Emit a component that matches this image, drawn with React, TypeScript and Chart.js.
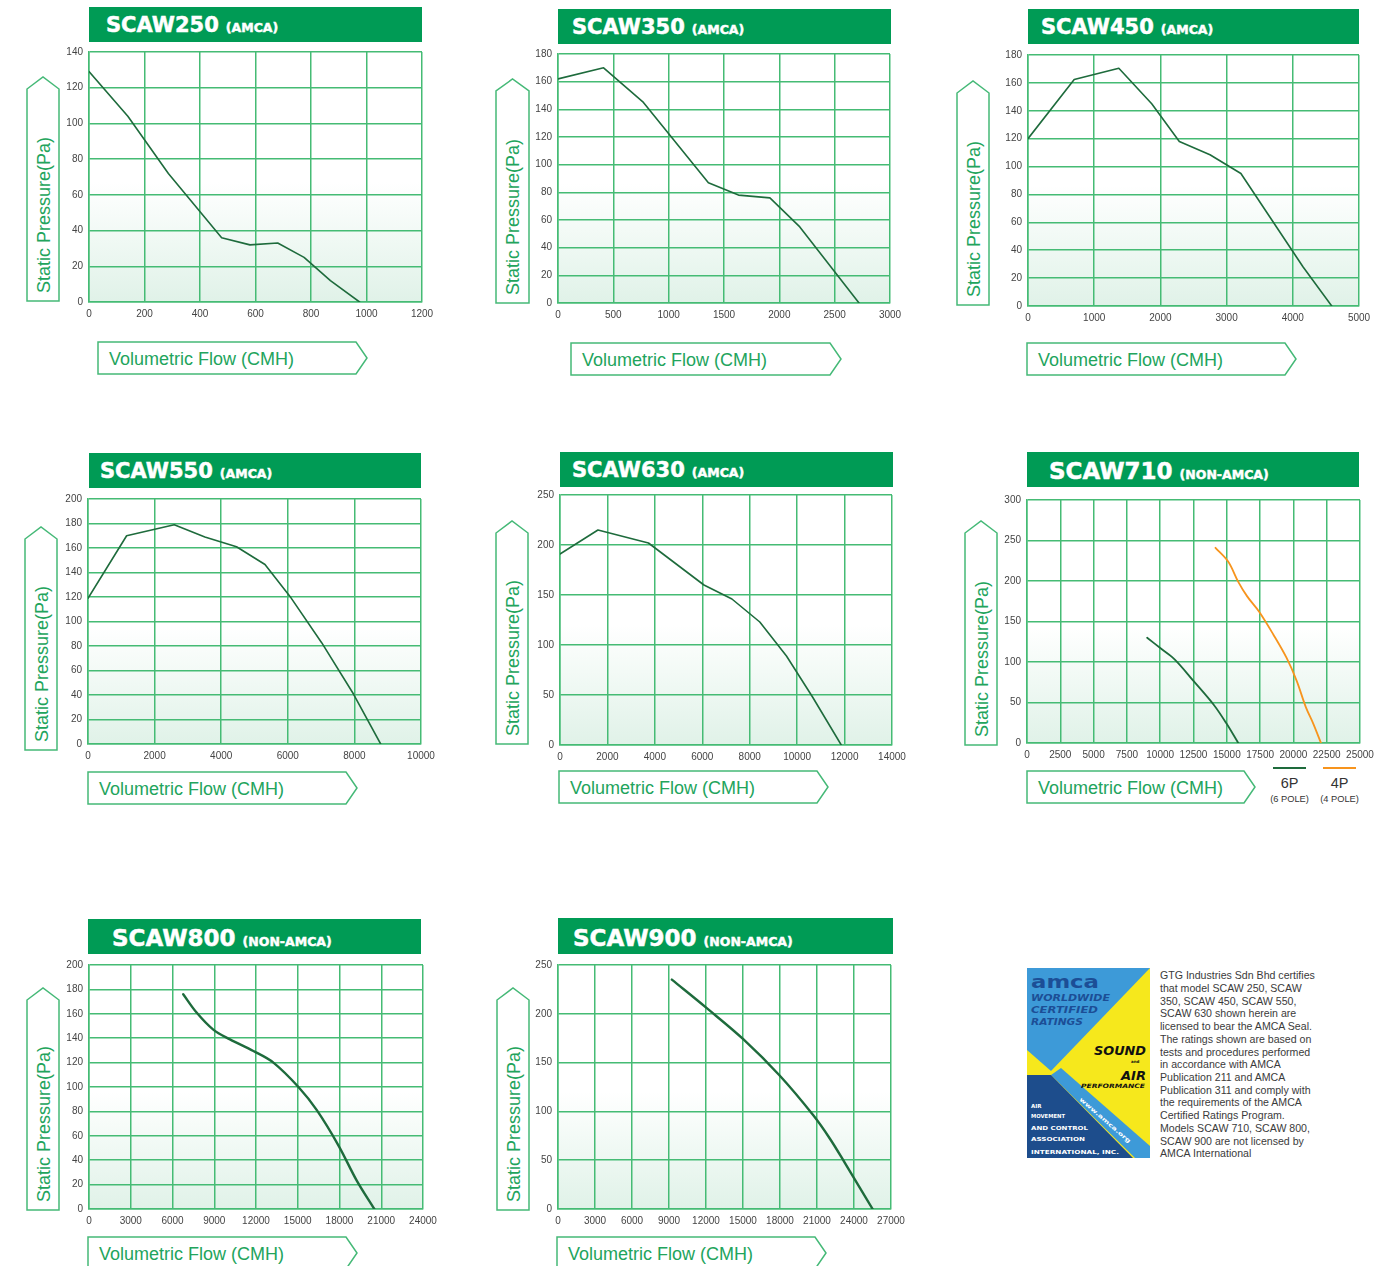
import React, { useEffect, useRef } from "react";
import { Chart, registerables } from "chart.js";

Chart.register(...registerables);
Chart.defaults.font.family = "'Liberation Sans', Arial, sans-serif";

// ---------------- DATA ----------------
const scaw250Flow = [0, 140, 286, 478, 580, 680, 775, 870, 975];
const scaw250Pressure = [129, 104, 72, 36, 32, 33, 25, 12, 0];
const scaw250XTicks = [0, 200, 400, 600, 800, 1000, 1200];
const scaw250YTicks = [0, 20, 40, 60, 80, 100, 120, 140];

const scaw350Flow = [0, 412, 772, 1359, 1631, 1915, 2185, 2720];
const scaw350Pressure = [162, 170, 145, 87, 78, 76, 55, 0];
const scaw350XTicks = [0, 500, 1000, 1500, 2000, 2500, 3000];
const scaw350YTicks = [0, 20, 40, 60, 80, 100, 120, 140, 160, 180];

const scaw450Flow = [0, 698, 1372, 1869, 2286, 2749, 3216, 4156, 4588];
const scaw450Pressure = [120, 162.5, 170.5, 145, 118, 108.5, 95, 28, 0];
const scaw450XTicks = [0, 1000, 2000, 3000, 4000, 5000];
const scaw450YTicks = [0, 20, 40, 60, 80, 100, 120, 140, 160, 180];

const scaw550Flow = [0, 1160, 2590, 3510, 4460, 5315, 6066, 7017, 7968, 8789];
const scaw550Pressure = [119, 170, 179, 169, 161, 146.5, 120.5, 82.7, 41, 0];
const scaw550XTicks = [0, 2000, 4000, 6000, 8000, 10000];
const scaw550YTicks = [0, 20, 40, 60, 80, 100, 120, 140, 160, 180, 200];

const scaw630Flow = [0, 1600, 3730, 6070, 7250, 8425, 9550, 10650, 11860];
const scaw630Pressure = [191, 215, 202, 160, 146, 123, 89, 48, 0];
const scaw630XTicks = [0, 2000, 4000, 6000, 8000, 10000, 12000, 14000];
const scaw630YTicks = [0, 50, 100, 150, 200, 250];

const scaw710Flow6P = [9020, 10100, 11100, 12480, 14030, 14980, 15860];
const scaw710Pressure6P = [130, 116, 103, 77, 47, 24, 0];
const scaw710Flow4P = [14150, 15100, 15860, 16530, 17430, 18490, 19490, 20240, 20940, 21490, 22070];
const scaw710Pressure4P = [241, 224, 199, 181, 162, 134, 105, 77, 44, 24, 0];
const scaw710XTicks = [0, 2500, 5000, 7500, 10000, 12500, 15000, 17500, 20000, 22500, 25000];
const scaw710YTicks = [0, 50, 100, 150, 200, 250, 300];

const scaw800Flow = [6770, 7730, 8930, 10130, 11810, 13250, 15050, 16370, 17930, 19250, 20500];
const scaw800Pressure = [176, 161, 147, 139, 129.5, 120, 100, 81, 52, 23, 0];
const scaw800XTicks = [0, 3000, 6000, 9000, 12000, 15000, 18000, 21000, 24000];
const scaw800YTicks = [0, 20, 40, 60, 80, 100, 120, 140, 160, 180, 200];

const scaw900Flow = [9230, 12040, 15020, 17990, 20700, 22050, 23270, 25510];
const scaw900Pressure = [235, 206, 174, 136.5, 96, 72, 47, 0];
const scaw900XTicks = [0, 3000, 6000, 9000, 12000, 15000, 18000, 21000, 24000, 27000];
const scaw900YTicks = [0, 50, 100, 150, 200, 250];

const certText = [
  "GTG Industries Sdn Bhd certifies",
  "that model SCAW 250, SCAW",
  "350, SCAW 450, SCAW 550,",
  "SCAW 630 shown herein are",
  "licensed to bear the AMCA Seal.",
  "The ratings shown are based on",
  "tests and procedures performed",
  "in accordance with AMCA",
  "Publication 211 and AMCA",
  "Publication 311 and comply with",
  "the requirements of the AMCA",
  "Certified Ratings Program.",
  "Models SCAW 710, SCAW 800,",
  "SCAW 900 are not licensed by",
  "AMCA International",
];

// ---------------- STYLE ----------------
const BANNER = "#009b55";
const GRID = "#45bb74";
const BOX = "#45b977";
const LABEL = "#22a45c";
const CURVE = "#1e6b3c";
const ORANGE = "#f7941d";
const SANS = "'Liberation Sans', Arial, sans-serif";

const PAD_L = 45;
const PAD_T = 10;
const PAD_R = 24;
const PAD_B = 26;

const bgPlugin = {
  id: "plotBg",
  beforeDraw(chart: any) {
    const { ctx, chartArea } = chart;
    if (!chartArea) return;
    const { left, top, right, bottom } = chartArea;
    const g = ctx.createLinearGradient(0, top, 0, bottom);
    g.addColorStop(0, "#ffffff");
    g.addColorStop(0.52, "#ffffff");
    g.addColorStop(1, "#e0f2e8");
    ctx.save();
    ctx.fillStyle = g;
    ctx.fillRect(left, top, right - left, bottom - top);
    ctx.restore();
  },
};

type Series = { flow: number[]; pressure: number[]; color: string };

function PerfChart(props: {
  rect: { l: number; t: number; w: number; h: number };
  xTicks: number[];
  yTicks: number[];
  series: Series[];
  smooth: boolean;
  lineWidth: number;
}) {
  const ref = useRef<HTMLCanvasElement>(null);
  const { rect, xTicks, yTicks, series, smooth, lineWidth } = props;
  useEffect(() => {
    const chart = new Chart(ref.current as HTMLCanvasElement, {
      type: "line",
      data: {
        datasets: series.map((s) => ({
          data: s.flow.map((x, i) => ({ x, y: s.pressure[i] })),
          borderColor: s.color,
          borderWidth: lineWidth,
          pointRadius: 0,
          fill: false,
          tension: smooth ? 0.35 : 0,
          borderCapStyle: "round",
          borderJoinStyle: "round",
        })),
      } as any,
      options: {
        animation: false,
        responsive: true,
        maintainAspectRatio: false,
        layout: { padding: { left: 0, top: PAD_T, right: PAD_R, bottom: 0 } },
        plugins: {
          legend: { display: false },
          tooltip: { enabled: false },
          title: { display: false },
        },
        scales: {
          x: {
            type: "linear",
            min: xTicks[0],
            max: xTicks[xTicks.length - 1],
            afterBuildTicks: (s: any) => {
              s.ticks = xTicks.map((v) => ({ value: v }));
            },
            afterFit: (s: any) => {
              s.height = PAD_B;
            },
            ticks: {
              autoSkip: false,
              maxRotation: 0,
              minRotation: 0,
              padding: 6,
              color: "#444",
              font: { size: 10 },
              callback: (v: any) => String(v),
            },
            grid: { color: GRID, lineWidth: 1.5, drawTicks: false },
            border: { display: true, color: GRID, width: 1.5 },
          },
          y: {
            type: "linear",
            min: yTicks[0],
            max: yTicks[yTicks.length - 1],
            afterBuildTicks: (s: any) => {
              s.ticks = yTicks.map((v) => ({ value: v }));
            },
            afterFit: (s: any) => {
              s.width = PAD_L;
            },
            ticks: {
              autoSkip: false,
              padding: 6,
              color: "#444",
              font: { size: 10 },
              callback: (v: any) => String(v),
            },
            grid: { color: GRID, lineWidth: 1.5, drawTicks: false },
            border: { display: true, color: GRID, width: 1.5 },
          },
        },
      } as any,
      plugins: [bgPlugin],
    });
    return () => chart.destroy();
  }, []);
  return (
    <div
      style={{
        position: "absolute",
        left: rect.l - PAD_L,
        top: rect.t - PAD_T,
        width: rect.w + PAD_L + PAD_R,
        height: rect.h + PAD_T + PAD_B,
      }}
    >
      <canvas ref={ref} />
    </div>
  );
}

function Banner(p: { x: number; y: number; w: number; h: number; tx: number; by: number; name: string; tag: string; size: number }) {
  return (
    <g>
      <rect x={p.x} y={p.y} width={p.w} height={p.h} fill={BANNER} />
      <text
        x={p.tx}
        y={p.by}
        fill="#ffffff"
        stroke="#ffffff"
        strokeWidth={0.5}
        fontFamily="'DejaVu Sans', sans-serif"
        fontWeight="bold"
      >
        <tspan fontSize={p.size}>{p.name}</tspan>
        <tspan fontSize={12.5} dx={7}>{p.tag}</tspan>
      </text>
    </g>
  );
}

function YBox(p: { x: number; apex: number; bottom: number; w: number }) {
  const s = 12;
  const pts = `${p.x},${p.bottom} ${p.x},${p.apex + s} ${p.x + p.w / 2},${p.apex} ${p.x + p.w},${p.apex + s} ${p.x + p.w},${p.bottom}`;
  return (
    <g>
      <polygon points={pts} fill="#ffffff" stroke={BOX} strokeWidth={1.5} />
      <text
        transform={`translate(${p.x + p.w / 2 + 6.5},${p.bottom - 8}) rotate(-90)`}
        fontSize={18}
        fill={LABEL}
        fontFamily={SANS}
      >
        Static Pressure(Pa)
      </text>
    </g>
  );
}

function XBox(p: { x: number; top: number; tip: number }) {
  const h = 32;
  const pts = `${p.x},${p.top} ${p.tip - 11},${p.top} ${p.tip},${p.top + h / 2} ${p.tip - 11},${p.top + h} ${p.x},${p.top + h}`;
  return (
    <g>
      <polygon points={pts} fill="#ffffff" stroke={BOX} strokeWidth={1.5} />
      <text x={p.x + 11} y={p.top + h / 2 + 6.5} fontSize={18} fill={LABEL} fontFamily={SANS}>
        Volumetric Flow (CMH)
      </text>
    </g>
  );
}

function Logo() {
  const dark = "#1c4e96";
  const bold = { fontFamily: "'DejaVu Sans', sans-serif", fontWeight: "bold" as const };
  return (
    <g transform="translate(1027,968)">
      <rect width={123} height={190} fill="#f6e81c" />
      <polygon points="0,0 123,0 24,103 0,82" fill="#3d9ad8" />
      <polygon points="24,107 34,100 123,178 123,190 108,190" fill="#3d9ad8" />
      <polygon points="0,107 24,107 106,190 0,190" fill="#1d4d8c" />
      <text x={4} y={20} fontSize={17} fill={dark} textLength={68} lengthAdjust="spacingAndGlyphs" {...bold}>amca</text>
      <text x={4} y={33} fontSize={9} fontStyle="italic" fill={dark} textLength={79} lengthAdjust="spacingAndGlyphs" {...bold}>WORLDWIDE</text>
      <text x={4} y={45} fontSize={9} fontStyle="italic" fill={dark} textLength={67} lengthAdjust="spacingAndGlyphs" {...bold}>CERTIFIED</text>
      <text x={4} y={57} fontSize={9} fontStyle="italic" fill={dark} textLength={52} lengthAdjust="spacingAndGlyphs" {...bold}>RATINGS</text>
      <text x={67} y={87} fontSize={12} fontStyle="italic" fill="#111" textLength={52} lengthAdjust="spacingAndGlyphs" {...bold}>SOUND</text>
      <text x={104} y={95} fontSize={4} fill="#111" {...bold}>and</text>
      <text x={94} y={112} fontSize={12} fontStyle="italic" fill="#111" textLength={25} lengthAdjust="spacingAndGlyphs" {...bold}>AIR</text>
      <text x={54} y={120} fontSize={6} fontStyle="italic" fill="#111" textLength={64} lengthAdjust="spacingAndGlyphs" {...bold}>PERFORMANCE</text>
      <text x={4} y={140} fontSize={5.5} fill="#ffffff" {...bold}>AIR</text>
      <text x={4} y={150} fontSize={5.5} fill="#ffffff" textLength={34} lengthAdjust="spacingAndGlyphs" {...bold}>MOVEMENT</text>
      <text x={4} y={162} fontSize={5.5} fill="#ffffff" textLength={57} lengthAdjust="spacingAndGlyphs" {...bold}>AND CONTROL</text>
      <text x={4} y={173} fontSize={5.5} fill="#ffffff" textLength={54} lengthAdjust="spacingAndGlyphs" {...bold}>ASSOCIATION</text>
      <text x={4} y={186} fontSize={5.5} fill="#ffffff" textLength={88} lengthAdjust="spacingAndGlyphs" {...bold}>INTERNATIONAL, INC.</text>
      <text transform="translate(52,132) rotate(41)" fontSize={5.5} fill="#ffffff" textLength={66} lengthAdjust="spacingAndGlyphs" {...bold}>www.amca.org</text>
    </g>
  );
}

export default function App() {
  return (
    <div
      style={{
        position: "absolute",
        left: 0,
        top: 0,
        width: 1395,
        height: 1266,
        overflow: "hidden",
        background: "#ffffff",
      }}
    >
      <svg width={1395} height={1266} style={{ position: "absolute", left: 0, top: 0 }}>
        <Banner x={89} y={7} w={333} h={35} tx={106} by={32.3} name="SCAW250" tag="(AMCA)" size={21} />
        <Banner x={558} y={9} w={333} h={35} tx={572} by={34} name="SCAW350" tag="(AMCA)" size={21} />
        <Banner x={1028} y={9} w={331} h={35} tx={1041} by={34} name="SCAW450" tag="(AMCA)" size={21} />
        <Banner x={89} y={453} w={332} h={35} tx={100} by={478.3} name="SCAW550" tag="(AMCA)" size={21} />
        <Banner x={560} y={452} w={333} h={35} tx={572} by={477} name="SCAW630" tag="(AMCA)" size={21} />
        <Banner x={1027} y={452} w={332} h={35} tx={1049} by={479.3} name="SCAW710" tag="(NON-AMCA)" size={23} />
        <Banner x={88} y={919} w={333} h={35} tx={112} by={946} name="SCAW800" tag="(NON-AMCA)" size={23} />
        <Banner x={558} y={918} w={335} h={36} tx={573} by={945.7} name="SCAW900" tag="(NON-AMCA)" size={23} />

        <YBox x={27} apex={77} bottom={301} w={32} />
        <YBox x={496} apex={79} bottom={303} w={33} />
        <YBox x={957} apex={81} bottom={305} w={32} />
        <YBox x={25} apex={527} bottom={750} w={32} />
        <YBox x={496} apex={521} bottom={744} w={32} />
        <YBox x={965} apex={521} bottom={745} w={32} />
        <YBox x={27} apex={988} bottom={1210} w={32} />
        <YBox x={497} apex={988} bottom={1210} w={32} />

        <XBox x={98} top={342} tip={367} />
        <XBox x={571} top={343} tip={841} />
        <XBox x={1027} top={343} tip={1296} />
        <XBox x={88} top={772} tip={357} />
        <XBox x={559} top={771} tip={828} />
        <XBox x={1027} top={771} tip={1255} />
        <XBox x={88} top={1237} tip={357} />
        <XBox x={557} top={1237} tip={826} />

        {/* SCAW710 legend */}
        <line x1={1273} y1={768} x2={1306} y2={768} stroke={CURVE} strokeWidth={2} />
        <line x1={1323} y1={768} x2={1356} y2={768} stroke={ORANGE} strokeWidth={2} />
        <text x={1289.5} y={787.5} fontSize={14.5} fill="#333" fontFamily={SANS} textAnchor="middle">6P</text>
        <text x={1339.5} y={787.5} fontSize={14.5} fill="#333" fontFamily={SANS} textAnchor="middle">4P</text>
        <text x={1289.5} y={801.5} fontSize={9.3} fill="#333" fontFamily={SANS} textAnchor="middle">(6 POLE)</text>
        <text x={1339.5} y={801.5} fontSize={9.3} fill="#333" fontFamily={SANS} textAnchor="middle">(4 POLE)</text>

        <Logo />
        <text fontSize={10.6} fill="#3b3b3b" fontFamily={SANS}>
          {certText.map((line, i) => (
            <tspan key={i} x={1160} y={979.3 + i * 12.71}>
              {line}
            </tspan>
          ))}
        </text>
      </svg>

      <PerfChart
        rect={{ l: 89, t: 50, w: 333, h: 252 }}
        xTicks={scaw250XTicks}
        yTicks={scaw250YTicks}
        series={[{ flow: scaw250Flow, pressure: scaw250Pressure, color: CURVE }]}
        smooth={false}
        lineWidth={1.6}
      />
      <PerfChart
        rect={{ l: 558, t: 52, w: 332, h: 251 }}
        xTicks={scaw350XTicks}
        yTicks={scaw350YTicks}
        series={[{ flow: scaw350Flow, pressure: scaw350Pressure, color: CURVE }]}
        smooth={false}
        lineWidth={1.6}
      />
      <PerfChart
        rect={{ l: 1028, t: 53, w: 331, h: 253 }}
        xTicks={scaw450XTicks}
        yTicks={scaw450YTicks}
        series={[{ flow: scaw450Flow, pressure: scaw450Pressure, color: CURVE }]}
        smooth={false}
        lineWidth={1.6}
      />
      <PerfChart
        rect={{ l: 88, t: 497, w: 333, h: 247 }}
        xTicks={scaw550XTicks}
        yTicks={scaw550YTicks}
        series={[{ flow: scaw550Flow, pressure: scaw550Pressure, color: CURVE }]}
        smooth={false}
        lineWidth={1.6}
      />
      <PerfChart
        rect={{ l: 560, t: 493, w: 332, h: 252 }}
        xTicks={scaw630XTicks}
        yTicks={scaw630YTicks}
        series={[{ flow: scaw630Flow, pressure: scaw630Pressure, color: CURVE }]}
        smooth={false}
        lineWidth={1.6}
      />
      <PerfChart
        rect={{ l: 1027, t: 498, w: 333, h: 245 }}
        xTicks={scaw710XTicks}
        yTicks={scaw710YTicks}
        series={[
          { flow: scaw710Flow6P, pressure: scaw710Pressure6P, color: CURVE },
          { flow: scaw710Flow4P, pressure: scaw710Pressure4P, color: ORANGE },
        ]}
        smooth={true}
        lineWidth={1.8}
      />
      <PerfChart
        rect={{ l: 89, t: 963, w: 334, h: 246 }}
        xTicks={scaw800XTicks}
        yTicks={scaw800YTicks}
        series={[{ flow: scaw800Flow, pressure: scaw800Pressure, color: CURVE }]}
        smooth={true}
        lineWidth={2.4}
      />
      <PerfChart
        rect={{ l: 558, t: 963, w: 333, h: 246 }}
        xTicks={scaw900XTicks}
        yTicks={scaw900YTicks}
        series={[{ flow: scaw900Flow, pressure: scaw900Pressure, color: CURVE }]}
        smooth={true}
        lineWidth={2.4}
      />
    </div>
  );
}
